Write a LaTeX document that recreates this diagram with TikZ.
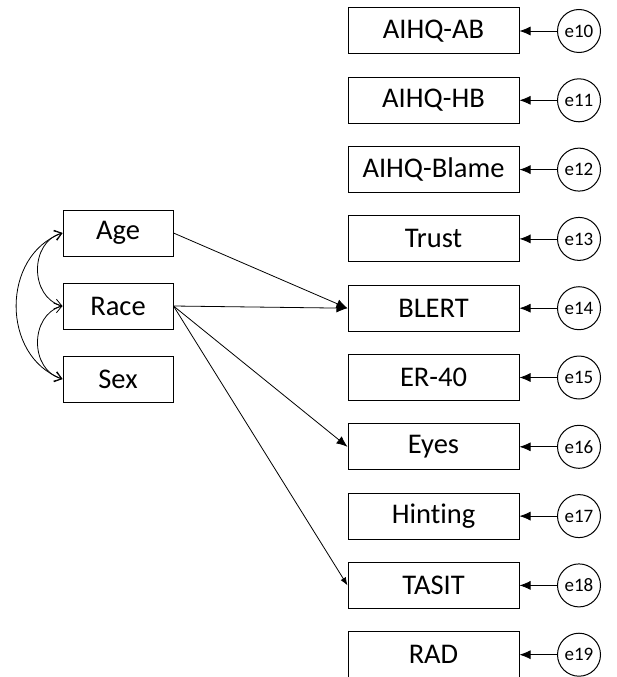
\documentclass[tikz,border=0pt]{standalone}
\usepackage{fontspec}
\setmainfont{Carlito}[Ligatures=NoCommon]
\usetikzlibrary{arrows.meta}
\begin{document}
\begin{tikzpicture}[x=1pt,y=-1pt]
% Page frame
\useasboundingbox (0,0) rectangle (617,677);

\tikzstyle{obs} = [draw, shape=rectangle, minimum height=46pt, minimum width=171pt, line width=1pt, font=\fontsize{28.5}{32}\selectfont]
\tikzstyle{cov} = [draw, shape=rectangle, minimum height=46pt, minimum width=110pt, line width=1pt, font=\fontsize{28.5}{32}\selectfont]
\tikzstyle{err} = [draw, shape=circle, minimum size=43pt, inner sep=0pt, line width=1pt, font=\fontsize{19}{22}\selectfont]
\tikzstyle{path} = [line width=0.8pt, -{Latex[length=11pt,width=9pt]}]
\tikzstyle{corr} = [line width=0.8pt, {Straight Barb[length=7pt,width=10pt]}-{Straight Barb[length=7pt,width=10pt]}]

% Covariates
\node at (118,233)[cov](age){Age};
\node at (118,306)[cov](race){Race};
\node at (118,379)[cov](sex){Sex};

% Outcomes
\node at (433.5,31)[obs](ab){AIHQ-AB};
\node at (433.5,100.3)[obs](hb){AIHQ-HB};
\node at (433.5,169.6)[obs](blame){AIHQ-Blame};
\node at (433.5,238.9)[obs](trust){Trust};
\node at (433.5,308.2)[obs](blert){BLERT};
\node at (433.5,377.5)[obs](er){ER-40};
\node at (433.5,446.8)[obs](eyes){Eyes};
\node at (433.5,516.1)[obs](hint){Hinting};
\node at (433.5,585.4)[obs](tasit){TASIT};
\node at (433.5,654.7)[obs](rad){RAD};

% Error terms
\node at (579,31)[err](e10){e10};
\node at (579,100.3)[err](e11){e11};
\node at (579,169.6)[err](e12){e12};
\node at (579,238.9)[err](e13){e13};
\node at (579,308.2)[err](e14){e14};
\node at (579,377.5)[err](e15){e15};
\node at (579,446.8)[err](e16){e16};
\node at (579,516.1)[err](e17){e17};
\node at (579,585.4)[err](e18){e18};
\node at (579,654.7)[err](e19){e19};

\draw[path] (e10) -- (ab);
\draw[path] (e11) -- (hb);
\draw[path] (e12) -- (blame);
\draw[path] (e13) -- (trust);
\draw[path] (e14) -- (blert);
\draw[path] (e15) -- (er);
\draw[path] (e16) -- (eyes);
\draw[path] (e17) -- (hint);
\draw[path] (e18) -- (tasit);
\draw[path] (e19) -- (rad);

% Regression paths
\draw[path] (age.east) -- (blert.west);
\draw[path] (race.east) -- (blert.west);
\draw[path] (race.east) -- (eyes.west);
\draw[path, -{Latex[length=8pt,width=6pt]}] (race.east) -- (tasit.west);

% Covariances
\draw[corr] (age.west) to[out=195, in=165, looseness=1.2] (race.west);
\draw[corr] (race.west) to[out=195, in=165, looseness=1.2] (sex.west);
\draw[corr] (age.west) to[out=200, in=160, looseness=1.15] (sex.west);

\end{tikzpicture}
\end{document}
